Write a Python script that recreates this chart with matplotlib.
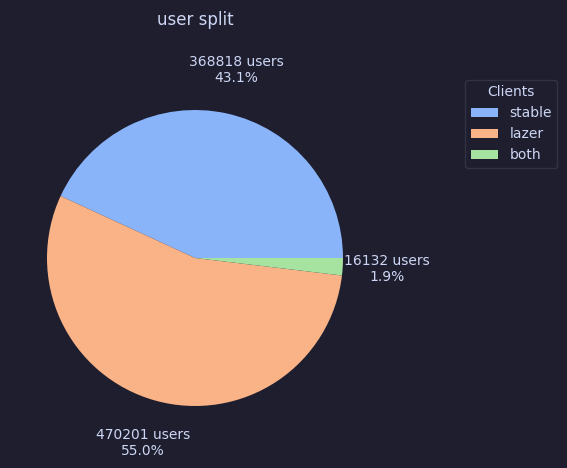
import matplotlib
matplotlib.use("Agg")
import matplotlib.pyplot as plt

clients = ["stable", "lazer", "both"]
users = [368818, 470201, 16132]
colors = ["#89b4fa", "#fab387", "#a6e3a1"]

bg = "#1e1e2e"
fg = "#cdd6f4"

total = sum(users)


def fmt(p):
    return "{:.0f} users\n{:.1f}%".format(round(p * total / 100), p)


fig = plt.figure(figsize=(5.67, 4.68), dpi=100, facecolor=bg)
ax = fig.add_axes([10 / 567, 25 / 468, 370 / 567, 370 / 468])
ax.set_facecolor(bg)

wedges, texts, autotexts = ax.pie(users, colors=colors, autopct=fmt,
                                  pctdistance=1.3, startangle=0,
                                  textprops={"color": fg, "fontsize": 10})
ax.set_title("user split", color=fg, fontsize=12, y=1.131, pad=0)

leg = ax.legend(wedges, clients, title="Clients", loc="upper left",
                bbox_to_anchor=(458 / 567, 1 - 73 / 468),
                bbox_transform=fig.transFigure,
                facecolor=bg, edgecolor="#313244", labelcolor=fg)
leg.get_title().set_color(fg)
leg.get_frame().set_alpha(1)

fig.savefig("out.png", dpi=100, facecolor=bg)
